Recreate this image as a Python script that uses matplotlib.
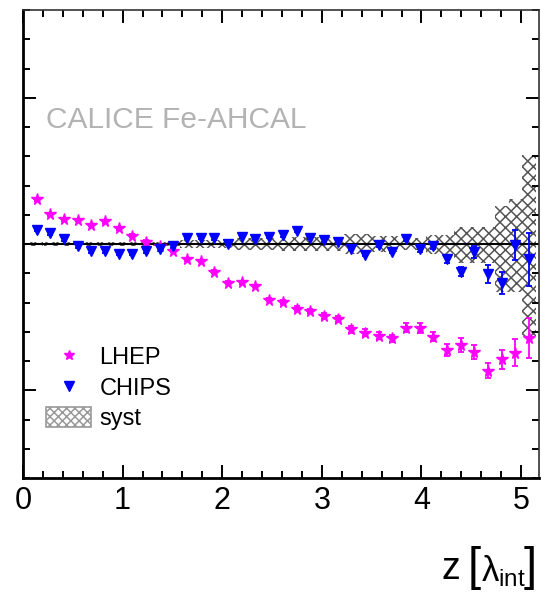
import numpy as np
import matplotlib
matplotlib.use("Agg")
import matplotlib.pyplot as plt
from matplotlib.patches import Patch
from matplotlib.lines import Line2D

plt.rcParams["font.family"] = ["Liberation Sans", "DejaVu Sans"]
plt.rcParams["mathtext.fontset"] = "custom"
plt.rcParams["mathtext.rm"] = "Liberation Sans"
plt.rcParams["mathtext.it"] = "Liberation Sans"
plt.rcParams["mathtext.bf"] = "Liberation Sans:bold"
plt.rcParams["hatch.linewidth"] = 1.1

# longitudinal depth of each layer centre [lambda_int]
z = [0.137, 0.275, 0.412, 0.549, 0.687, 0.824, 0.961, 1.098, 1.236, 1.373,
     1.510, 1.648, 1.785, 1.922, 2.060, 2.197, 2.334, 2.471, 2.609, 2.746,
     2.883, 3.021, 3.158, 3.295, 3.433, 3.570, 3.707, 3.844, 3.982, 4.119,
     4.256, 4.394, 4.531, 4.668, 4.806, 4.943, 5.080]
bin_width = 0.137

lhep = [0.0307, 0.0203, 0.0169, 0.0164, 0.0130, 0.0157, 0.0107, 0.0057, 0.0016, -0.0014,
        -0.0046, -0.0105, -0.0116, -0.0189, -0.0264, -0.0260, -0.0287, -0.0380, -0.0398, -0.0442,
        -0.0458, -0.0490, -0.0512, -0.0583, -0.0606, -0.0626, -0.0644, -0.0572, -0.0576, -0.0633,
        -0.0724, -0.0688, -0.0736, -0.0865, -0.0788, -0.0742, -0.0644]
lhep_err = [0.001, 0.001, 0.001, 0.001, 0.001, 0.001, 0.001, 0.001, 0.001, 0.001,
            0.001, 0.001, 0.001, 0.001, 0.001, 0.001, 0.001, 0.0012, 0.0015, 0.0015,
            0.0015, 0.002, 0.002, 0.0025, 0.0025, 0.0025, 0.0025, 0.0033, 0.0033, 0.0033,
            0.0043, 0.0048, 0.0048, 0.005, 0.0066, 0.009, 0.0137]

chips = [0.0096, 0.0073, 0.0034, -0.0014, -0.0048, -0.0048, -0.0068, -0.0068, -0.0048, -0.0036,
         -0.0014, 0.0043, 0.0043, 0.0039, 0.0000, 0.0048, 0.0036, 0.0050, 0.0059, 0.0091,
         0.0041, 0.0025, 0.0016, -0.0032, -0.0073, -0.0009, -0.0052, 0.0034, -0.0034, -0.0011,
         -0.0105, -0.0189, -0.0057, -0.0205, -0.0264, -0.0007, -0.0105]
chips_err = [0.001, 0.001, 0.001, 0.001, 0.001, 0.001, 0.001, 0.001, 0.001, 0.001,
             0.001, 0.001, 0.001, 0.001, 0.001, 0.001, 0.001, 0.001, 0.001, 0.001,
             0.001, 0.001, 0.001, 0.001, 0.001, 0.001, 0.001, 0.001, 0.0022, 0.002,
             0.0025, 0.003, 0.0042, 0.006, 0.0075, 0.010, 0.018]

# systematic band, upper and lower extent per layer
syst_up = [0.0016] * 11 + [0.0028] * 4 + [0.0038] * 3 + [0.0051] * 5 + [0.0068] * 2 + \
          [0.0055] * 2 + [0.0044] * 2 + [0.0065] * 2 + [0.0116] * 3 + [0.026, 0.031, 0.061]
syst_dn = [0.0016] * 11 + [0.0028] * 4 + [0.0038] * 3 + [0.0051] * 5 + [0.0068] * 2 + \
          [0.0055] * 2 + [0.0044] * 2 + [0.0065] * 2 + [0.013] * 3 + [0.033, 0.033, 0.063]

fig = plt.figure(figsize=(5.42, 5.93), dpi=100)
ax = fig.add_axes([0.0424, 0.1939, 0.9521, 0.7892])

z = np.array(z)
up = np.array(syst_up)
dn = np.array(syst_dn)
ax.bar(z, up + dn, bottom=-dn, width=bin_width, facecolor="none",
       edgecolor="#555555", linewidth=0, hatch="xxx", zorder=1)
ax.axhline(0, color="black", lw=1.5, zorder=2)

ax.errorbar(z, lhep, yerr=lhep_err, fmt="*", color="#ff00ff", ms=8.5,
            elinewidth=1.3, capsize=2.5, capthick=1.3, zorder=3)
ax.errorbar(z, chips, yerr=chips_err, fmt="v", color="#0000ff", ms=7.5,
            elinewidth=1.3, capsize=2.5, capthick=1.3, zorder=3)

ax.set_xlim(0, 5.18)
ax.set_ylim(-0.16, 0.16)
ax.set_xticks([0, 1, 2, 3, 4, 5])
ax.set_xticks(np.arange(0, 5.2, 0.2), minor=True)
ax.set_yticks([-0.1, 0, 0.1])
ax.set_yticks(np.arange(-0.16, 0.161, 0.02), minor=True)
ax.set_yticklabels([])
ax.tick_params(which="both", direction="in", top=True, right=True, width=1.4)
ax.tick_params(which="major", length=9.5)
ax.tick_params(which="minor", length=5)
ax.tick_params(axis="x", labelsize=22, pad=6)
for side in ["left", "bottom"]:
    ax.spines[side].set_linewidth(2.0)
for side in ["top", "right"]:
    ax.spines[side].set_linewidth(1.2)
    ax.spines[side].set_color("#333333")

ax.text(0.045, 0.765, "CALICE Fe-AHCAL", transform=ax.transAxes,
        fontsize=21.5, color="#b3b3b3", va="center", ha="left")

# axis title built from pieces so the brackets can be taller than the symbol
t_z = ax.annotate("z", xy=(0.815, 0.04), xycoords="figure fraction",
                  fontsize=27, ha="left", va="center", annotation_clip=False)
t_lb = ax.annotate("[", xy=(1, 0.5), xycoords=t_z, xytext=(5, 1),
                   textcoords="offset points", fontsize=34, va="center",
                   annotation_clip=False)
t_sym = ax.annotate(r"$\lambda_{\rm int}$", xy=(1, 0.5), xycoords=t_lb,
                    xytext=(0, -2), textcoords="offset points", fontsize=25,
                    va="center", annotation_clip=False)
t_rb = ax.annotate("]", xy=(1, 0.5), xycoords=t_sym, xytext=(-1, 2),
                   textcoords="offset points", fontsize=34, va="center",
                   annotation_clip=False)

handles = [
    Line2D([], [], marker="*", ls="none", color="#ff00ff", ms=7),
    Line2D([], [], marker="v", ls="none", color="#0000ff", ms=6.5),
    Patch(facecolor="white", edgecolor="#999999", hatch="xxxx", lw=1.2),
]
leg = ax.legend(handles, ["LHEP", "CHIPS", "syst"], loc="upper left",
                bbox_to_anchor=(0.045, 0.282), frameon=False, fontsize=17,
                borderpad=0, borderaxespad=0, handlelength=1.9,
                handleheight=0.95, handletextpad=0.35, labelspacing=0.3)

fig.savefig("out.png", dpi=100)
